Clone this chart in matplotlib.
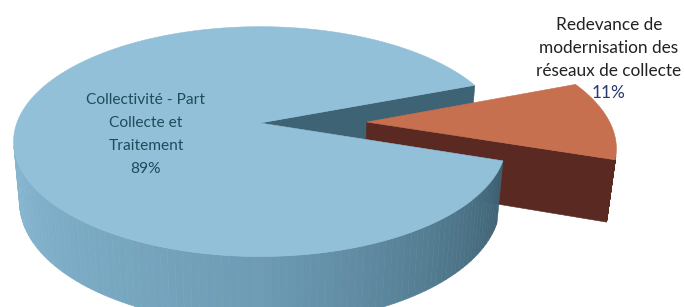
import numpy as np
import matplotlib
matplotlib.use("Agg")
import matplotlib.pyplot as plt
from matplotlib.patches import Polygon

# data
labels = ["Collectivité - Part\nCollecte et\nTraitement",
          "Redevance de\nmodernisation des\nréseaux de collecte"]
values = [89, 11]
pct_labels = ["89%", "11%"]
explode = [0.0, 0.44]

top_colors = ["#93c0d9", "#c7704f"]
wall_colors = ["#3e6374", "#5a2a22"]
# side gradient of the big slice, light on the left to dark on the right
side_stops_deg = [192, 270, 341]
side_stops_rgb = [(0.53, 0.72, 0.82), (0.43, 0.61, 0.71), (0.24, 0.38, 0.45)]

# simple perspective camera
ELEV = np.radians(27.4)
S, C = np.sin(ELEV), np.cos(ELEV)
DIST = 5.49
FOCAL = 1335.0
CX, CY = 260, 123
THICK = 0.285
START = 20.9  # deg, first slice starts here and goes counter clockwise


def project(X, Y, Z):
    X = np.asarray(X, float)
    Y = np.asarray(Y, float)
    Z = np.asarray(Z, float)
    yc = Y * S + Z * C
    depth = DIST + Y * C - Z * S
    return CX + FOCAL * X / depth, CY - FOCAL * yc / depth


def facing(t, ox, oy):
    # rim normal . (camera - point)
    return -ox * np.cos(t) - oy * np.sin(t) - 1 - DIST * C * np.sin(t)


def poly(ax, xs, ys, color, z):
    ax.add_patch(Polygon(np.column_stack([xs, ys]), closed=True,
                         facecolor=color, edgecolor=color, lw=0.4, zorder=z))


fig = plt.figure(figsize=(6.85, 3.07), dpi=100)
ax = fig.add_axes([0, 0, 1, 1])
ax.set_xlim(0, 685)
ax.set_ylim(307, 0)
ax.axis("off")

total = float(sum(values))
angles = []
a = START
for v in values:
    span = v / total * 360.0
    angles.append((a, a + span))
    a += span

for i, (a1, a2) in enumerate(angles):
    mid = np.radians((a1 + a2) / 2)
    ox, oy = explode[i] * np.cos(mid), explode[i] * np.sin(mid)
    t = np.radians(np.linspace(a1, a2, 200))
    rx, ry = ox + np.cos(t), oy + np.sin(t)

    # first slice is drawn in front of the exploded one
    base = 10 if i == 0 else 2

    # radial walls
    for edge, sign in ((a1, 1), (a2, -1)):
        e = np.radians(edge)
        nx, ny = sign * np.sin(e), -sign * np.cos(e)
        px, py = ox + 0.5 * np.cos(e), oy + 0.5 * np.sin(e)
        if nx * (0 - px) + ny * (-DIST * C - py) <= 0:
            continue
        X = [ox, ox + np.cos(e), ox + np.cos(e), ox]
        Y = [oy, oy + np.sin(e), oy + np.sin(e), oy]
        Z = [0, 0, -THICK, -THICK]
        xs, ys = project(X, Y, Z)
        poly(ax, xs, ys, wall_colors[i], 1 if i == 0 else base)

    # outer rim, only the part facing the camera
    for k in range(len(t) - 1):
        tm = 0.5 * (t[k] + t[k + 1])
        if facing(tm, ox, oy) <= 0:
            continue
        X = [rx[k], rx[k + 1], rx[k + 1], rx[k]]
        Y = [ry[k], ry[k + 1], ry[k + 1], ry[k]]
        Z = [0, 0, -THICK, -THICK]
        xs, ys = project(X, Y, Z)
        if i == 0:
            deg = np.degrees(tm) % 360
            col = tuple(np.interp(deg, side_stops_deg, [c[j] for c in side_stops_rgb])
                        for j in range(3))
        else:
            col = wall_colors[i]
        poly(ax, xs, ys, col, base + 1)

    # top face
    X = np.concatenate([[ox], rx])
    Y = np.concatenate([[oy], ry])
    xs, ys = project(X, Y, np.zeros(len(X)))
    poly(ax, xs, ys, top_colors[i], base + 2)

font = "Lato"
# label inside the big slice
for k, line in enumerate(labels[0].split("\n") + [pct_labels[0]]):
    ax.text(146, 100 + k * 23, line, ha="center", va="center", fontsize=11.2,
            family=font, color="#1f4b5c", zorder=30)

# label of the small slice
for k, line in enumerate(labels[1].split("\n")):
    ax.text(609, 25 + k * 22.8, line, ha="center", va="center", fontsize=12.4,
            family=font, color="#222222", zorder=30)
ax.text(609, 25 + 3 * 22.8, pct_labels[1], ha="center", va="center", fontsize=12.4,
        family=font, color="#2b3a6e", zorder=30)

fig.savefig("out.png", dpi=100)
